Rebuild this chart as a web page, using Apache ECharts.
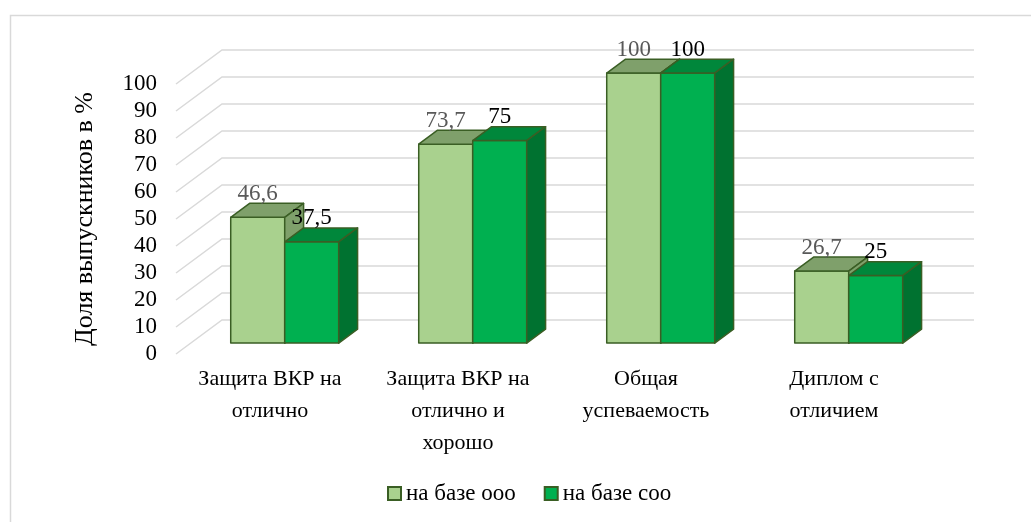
<!DOCTYPE html>
<html>
<head>
<meta charset="utf-8">
<script src="https://cdn.jsdelivr.net/npm/echarts@6/dist/echarts.min.js"></script>
<style>
    html, body { margin: 0; padding: 0; background: #fff; }
    #chart { width: 1031px; height: 522px; }
</style>
</head>
<body>
<div id="chart"></div>
<script>
// --- DATA ---
const categories = ['Защита ВКР на\nотлично', 'Защита ВКР на\nотлично и\nхорошо', 'Общая\nуспеваемость', 'Диплом с\nотличием'];
const seriesNames = ['на базе ооо', 'на базе соо'];
const valuesOoo = [46.6, 73.7, 100, 26.7];
const valuesSoo = [37.5, 75, 100, 25];
const yTicks = [0, 10, 20, 30, 40, 50, 60, 70, 80, 90, 100];

// --- 3D LOOK ---
const DX = 46, DY = -34;      // full depth of the plot box
const D0 = 0.32, D1 = 0.73;   // where the bars sit inside that depth
const BW = 54;                // bar front width
const FONT = '"Liberation Serif", "Times New Roman", serif';

const palette = [
    { front: '#A9D18E', top: '#7FA06B', side: '#7FA06B', label: '#595959' },
    { front: '#00B050', top: '#00873B', side: '#007230', label: '#000000' }
];
const edge = '#3A5E24';

function fmt(v) { return String(v).replace('.', ','); }

function boxRenderer(s) {
    const c = palette[s];
    return function (params, api) {
        const i = api.value(0);
        const v = api.value(1);
        const top = api.coord([i, v]);
        const base = api.coord([i, 0]);
        const fx = top[0] + DX * D0 + (s - 1) * BW;
        const fy = top[1] + DY * D0;
        const by = base[1] + DY * D0;
        const ddx = DX * (D1 - D0), ddy = DY * (D1 - D0);
        const line = { stroke: edge, lineWidth: 1.5, lineJoin: 'round' };
        return {
            type: 'group',
            children: [
                { type: 'rect', shape: { x: fx, y: fy, width: BW, height: by - fy }, style: Object.assign({ fill: c.front }, line) },
                { type: 'polygon', shape: { points: [[fx, fy], [fx + BW, fy], [fx + BW + ddx, fy + ddy], [fx + ddx, fy + ddy]] }, style: Object.assign({ fill: c.top }, line) },
                { type: 'polygon', shape: { points: [[fx + BW, fy], [fx + BW + ddx, fy + ddy], [fx + BW + ddx, by + ddy], [fx + BW, by]] }, style: Object.assign({ fill: c.side }, line) },
                {
                    type: 'text', z2: 10,
                    style: {
                        text: fmt(v), x: fx + BW / 2, y: fy + ddy + 2,
                        align: 'center', verticalAlign: 'bottom',
                        fill: c.label, font: '23px ' + FONT
                    }
                }
            ]
        };
    };
}

// back wall + left wall gridlines
function wallRenderer(params, api) {
    const v = api.value(1);
    const band = api.size([1, 0])[0];
    const p0 = api.coord([0, v]);
    const p1 = api.coord([categories.length - 1, v]);
    const xl = p0[0] - band / 2, xr = p1[0] + band / 2, y = p0[1];
    return {
        type: 'polyline',
        shape: { points: [[xl, y], [xl + DX, y + DY], [xr + DX, y + DY]] },
        style: { stroke: '#D9D9D9', lineWidth: 1.5, fill: null }
    };
}

const chart = echarts.init(document.getElementById('chart'));

chart.setOption({
    animation: false,
    textStyle: { fontFamily: FONT },
    graphic: [{
        type: 'rect', left: 8, top: 13,
        shape: { width: 1100, height: 600 },
        style: { fill: null, stroke: '#D9D9D9', lineWidth: 1.5 }
    }],
    grid: { left: 176, top: 84, width: 752, height: 270 },
    xAxis: {
        type: 'category', data: categories,
        axisLine: { show: false }, axisTick: { show: false },
        axisLabel: { color: '#000', fontSize: 22, lineHeight: 32, margin: 9, fontFamily: FONT, interval: 0 }
    },
    yAxis: {
        type: 'value', min: 0, max: 100, interval: 10,
        name: 'Доля выпускников в %', nameLocation: 'middle', nameGap: 78, nameRotate: 90,
        nameTextStyle: { color: '#000', fontSize: 26, fontFamily: FONT },
        axisLine: { show: false }, axisTick: { show: false }, splitLine: { show: false },
        axisLabel: { color: '#000', fontSize: 23, margin: 19, fontFamily: FONT }
    },
    legend: {
        left: 387, top: 482, padding: 0,
        icon: 'rect', itemWidth: 13, itemHeight: 13, itemGap: 28,
        textStyle: { color: '#000', fontSize: 23, fontFamily: FONT, padding: [0, 0, 0, 0] },
        data: seriesNames
    },
    series: [
        {
            type: 'custom', name: 'wall', silent: true, clip: false, z: 1,
            renderItem: wallRenderer,
            data: yTicks.map(v => [0, v])
        },
        {
            type: 'custom', name: seriesNames[0], clip: false, z: 2,
            itemStyle: { color: palette[0].front, borderColor: edge, borderWidth: 1.5 },
            renderItem: boxRenderer(0),
            data: valuesOoo.map((v, i) => [i, v])
        },
        {
            type: 'custom', name: seriesNames[1], clip: false, z: 3,
            itemStyle: { color: palette[1].front, borderColor: edge, borderWidth: 1.5 },
            renderItem: boxRenderer(1),
            data: valuesSoo.map((v, i) => [i, v])
        }
    ]
});
</script>
</body>
</html>
